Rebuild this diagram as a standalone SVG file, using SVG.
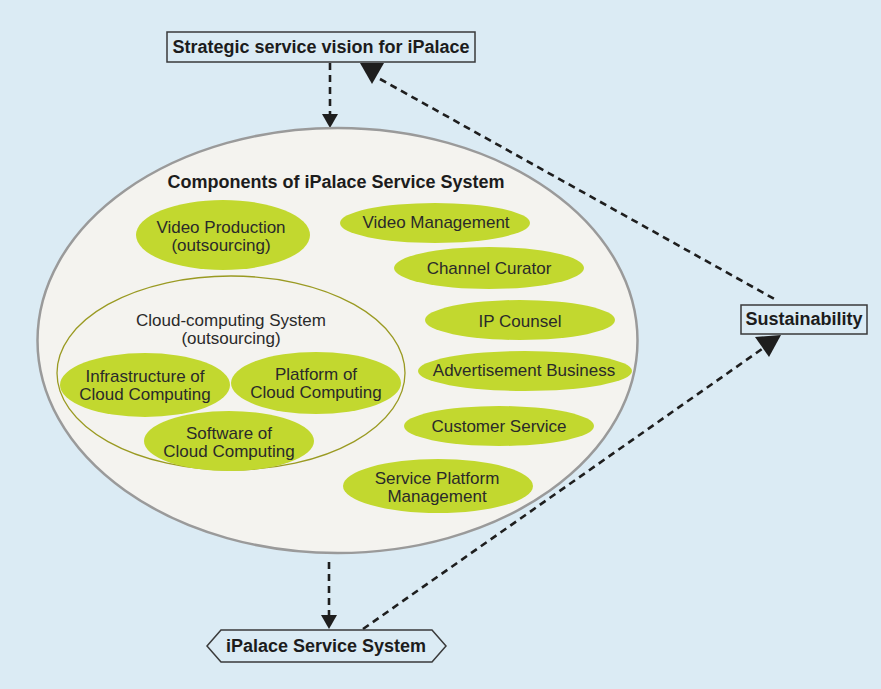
<svg xmlns="http://www.w3.org/2000/svg" width="881" height="689" viewBox="0 0 881 689">
<defs>
<style>
.bg{fill:#dbebf4}
.box{fill:#dbebf4;stroke:#3a3a3a;stroke-width:1.5}
.big{fill:#f4f3ef;stroke:#9a9a9a;stroke-width:2.5}
.cloud{fill:none;stroke:#9a9a22;stroke-width:1.3}
.g{fill:#c2d82f}
.b{font-family:"Liberation Sans",Arial,sans-serif;font-weight:bold;font-size:18px;fill:#1c1c1c;text-anchor:middle}
.t{font-family:"Liberation Sans",Arial,sans-serif;font-size:17px;fill:#2a2a2a;text-anchor:middle}
.d{fill:none;stroke:#1e1e1e;stroke-width:2.6;stroke-dasharray:7 5}
.ah{fill:#1e1e1e}
</style>
</defs>
<rect class="bg" x="0" y="0" width="881" height="689"/>

<g id="connectors">
<line class="d" x1="330" y1="63" x2="330" y2="115"/>
<polygon class="ah" points="322,114 338,114 330,128"/>
<line class="d" x1="380" y1="79" x2="778" y2="301"/>
<polygon class="ah" points="360,63 384,63 372,84"/>
<line class="d" x1="329" y1="562" x2="329" y2="616"/>
<polygon class="ah" points="321,615 337,615 329,629"/>
<line class="d" x1="363" y1="629" x2="762" y2="349"/>
<polygon class="ah" points="755,337 781,335 769,357"/>
</g>

<g id="strategic">
<rect class="box" x="167" y="32" width="308" height="30"/>
<text class="b" x="321" y="53">Strategic service vision for iPalace</text>
</g>

<g id="sustainability">
<rect class="box" x="741" y="305" width="126" height="29"/>
<text class="b" x="804" y="325">Sustainability</text>
</g>

<g id="service-system">
<polygon class="box" points="207,646 221,630 432,630 446,646 432,662 221,662"/>
<text class="b" x="326" y="652">iPalace Service System</text>
</g>

<g id="components">
<ellipse class="big" cx="337.5" cy="340.5" rx="300" ry="212.5"/>
<text class="b" x="336" y="188">Components of iPalace Service System</text>
</g>

<g id="video-production">
<ellipse class="g" cx="223" cy="235" rx="87" ry="35"/>
<text class="t" x="221" y="233">Video Production</text>
<text class="t" x="221" y="251">(outsourcing)</text>
</g>

<g id="cloud-system">
<ellipse class="cloud" cx="231" cy="373" rx="174" ry="97"/>
<text class="t" x="231" y="326">Cloud-computing System</text>
<text class="t" x="231" y="344">(outsourcing)</text>
</g>

<g id="infrastructure">
<ellipse class="g" cx="145" cy="385" rx="85" ry="32"/>
<text class="t" x="145" y="382">Infrastructure of</text>
<text class="t" x="145" y="400">Cloud Computing</text>
</g>

<g id="platform">
<ellipse class="g" cx="316" cy="383" rx="85" ry="31"/>
<text class="t" x="316" y="380">Platform of</text>
<text class="t" x="316" y="398">Cloud Computing</text>
</g>

<g id="software">
<ellipse class="g" cx="229" cy="441" rx="85" ry="30"/>
<text class="t" x="229" y="439">Software of</text>
<text class="t" x="229" y="457">Cloud Computing</text>
</g>

<g id="video-management">
<ellipse class="g" cx="435" cy="223" rx="95" ry="20"/>
<text class="t" x="436" y="228">Video Management</text>
</g>

<g id="channel-curator">
<ellipse class="g" cx="489" cy="268" rx="95" ry="21"/>
<text class="t" x="489" y="274">Channel Curator</text>
</g>

<g id="ip-counsel">
<ellipse class="g" cx="520" cy="320" rx="95" ry="20"/>
<text class="t" x="520" y="327">IP Counsel</text>
</g>

<g id="advertisement">
<ellipse class="g" cx="525" cy="371" rx="107" ry="20"/>
<text class="t" x="524" y="376">Advertisement Business</text>
</g>

<g id="customer-service">
<ellipse class="g" cx="499" cy="426" rx="95" ry="20"/>
<text class="t" x="499" y="432">Customer Service</text>
</g>

<g id="service-platform">
<ellipse class="g" cx="438" cy="486" rx="95" ry="27"/>
<text class="t" x="437" y="484">Service Platform</text>
<text class="t" x="437" y="502">Management</text>
</g>
</svg>
